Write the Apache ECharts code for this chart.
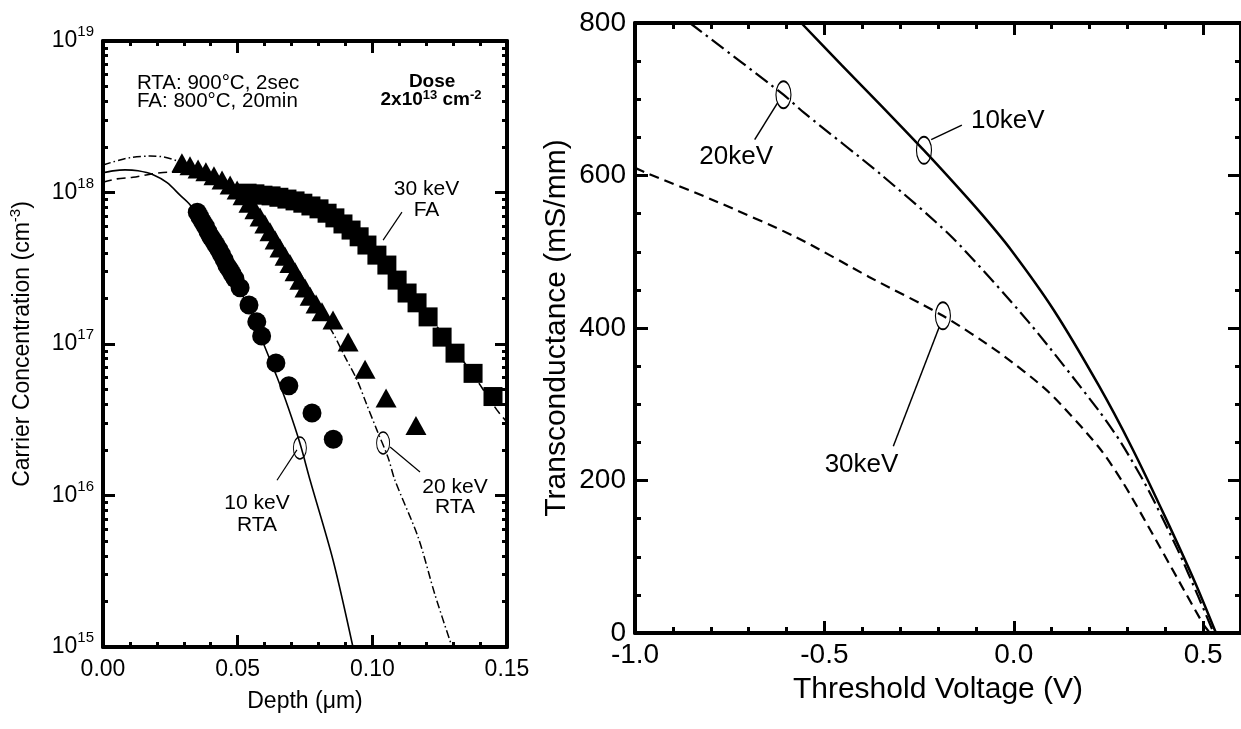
<!DOCTYPE html>
<html>
<head>
<meta charset="utf-8">
<script src="https://cdn.jsdelivr.net/npm/echarts@6/dist/echarts.min.js"></script>
<style>
  html, body { margin: 0; padding: 0; background: #fff; }
  #chart { width: 1241px; height: 729px; }
</style>
</head>
<body>
<div id="chart"></div>
<script>
// ---------- Carrier profiles: depth (µm) vs carrier concentration (cm^-3) ----------
// 10 keV, RTA (measured, circles)
const circDepth = [0.035, 0.036, 0.037, 0.038, 0.039, 0.040, 0.041, 0.042, 0.043, 0.044, 0.045, 0.046,
                   0.047, 0.048, 0.049, 0.0509, 0.0542, 0.0571, 0.0589, 0.0642, 0.0690, 0.0776, 0.0855];
const circConc  = [7.4e17, 6.9e17, 6.4e17, 6.0e17, 5.5e17, 5.1e17, 4.8e17, 4.5e17, 4.2e17, 3.9e17, 3.6e17, 3.3e17,
                   3.1e17, 2.9e17, 2.7e17, 2.35e17, 1.81e17, 1.40e17, 1.13e17, 7.5e16, 5.3e16, 3.5e16, 2.35e16];
// 20 keV, RTA (measured, triangles)
const triDepth = [0.0293, 0.0323, 0.0353, 0.0382, 0.0412, 0.0442, 0.0472, 0.0498, 0.0520, 0.0542, 0.0564, 0.0583,
                  0.0601, 0.0620, 0.0639, 0.0657, 0.0676, 0.0694, 0.0713, 0.0731, 0.0750, 0.0769, 0.0791, 0.0813,
                  0.0854, 0.0910, 0.0973, 0.1051, 0.1162];
const triConc  = [1.57e18, 1.50e18, 1.43e18, 1.37e18, 1.29e18, 1.21e18, 1.12e18, 1.04e18, 9.5e17, 8.5e17, 7.7e17, 6.9e17,
                  6.2e17, 5.5e17, 4.85e17, 4.3e17, 3.8e17, 3.4e17, 3.0e17, 2.64e17, 2.34e17, 2.07e17, 1.84e17, 1.63e17,
                  1.44e17, 1.03e17, 6.8e16, 4.4e16, 2.9e16];
// 30 keV, FA (measured, squares)
const sqDepth = [0.0535, 0.0564, 0.0594, 0.0624, 0.0653, 0.0683, 0.0713, 0.0742, 0.0772, 0.0802, 0.0832, 0.0861,
                 0.0891, 0.0921, 0.0951, 0.0980, 0.1017, 0.1054, 0.1092, 0.1129, 0.1166, 0.1207, 0.1259, 0.1307,
                 0.1374, 0.1448];
const sqConc  = [9.9e17, 9.8e17, 9.6e17, 9.5e17, 9.3e17, 9.05e17, 8.8e17, 8.5e17, 8.15e17, 7.8e17, 7.3e17, 6.8e17,
                 6.2e17, 5.65e17, 5.1e17, 4.5e17, 3.86e17, 3.32e17, 2.64e17, 2.17e17, 1.87e17, 1.51e17, 1.11e17, 8.7e16,
                 6.4e16, 4.5e16];
// Simulated profiles
const sim10Depth = [0, 0.0037, 0.0082, 0.0130, 0.0186, 0.0238, 0.0286, 0.0323, 0.0416, 0.0509, 0.0564, 0.0601,
                    0.0646, 0.0687, 0.0731, 0.0769, 0.0854, 0.0928];
const sim10Conc  = [1.35e18, 1.39e18, 1.41e18, 1.39e18, 1.31e18, 1.16e18, 9.6e17, 8.3e17, 4.85e17, 2.27e17, 1.40e17, 9.55e16,
                    6.05e16, 3.84e16, 2.22e16, 1.26e16, 3.75e15, 1.0e15];
const sim20Depth = [0, 0.0063, 0.0111, 0.0175, 0.0230, 0.0286, 0.0360, 0.0434, 0.0509, 0.0583, 0.0657, 0.0731,
                    0.0780, 0.0854, 0.0899, 0.0943, 0.0980, 0.1017, 0.1058, 0.1084, 0.1170, 0.1233, 0.1296];
const sim20Conc  = [1.52e18, 1.64e18, 1.71e18, 1.74e18, 1.71e18, 1.59e18, 1.41e18, 1.25e18, 1.04e18, 7.4e17, 4.5e17, 2.53e17,
                    1.95e17, 1.18e17, 8.2e16, 5.8e16, 3.95e16, 2.7e16, 1.79e16, 1.26e16, 5.3e15, 2.2e15, 1.0e15];
const sim30Depth = [0, 0.0052, 0.0111, 0.0175, 0.0238, 0.0297, 0.0360, 0.0440, 0.0535, 0.0731, 0.0917, 0.1054,
                    0.1214, 0.1363, 0.1463, 0.150];
const sim30Conc  = [1.17e18, 1.23e18, 1.26e18, 1.32e18, 1.36e18, 1.36e18, 1.35e18, 1.23e18, 9.9e17, 8.65e17, 5.83e17, 3.32e17,
                    1.49e17, 6.7e16, 3.66e16, 3.05e16];

// ---------- Transconductance (mS/mm) vs threshold voltage (V) ----------
const gm10Vth = [-0.561, -0.455, -0.347, -0.237, -0.161, -0.084, -0.008, 0.105, 0.224, 0.311, 0.400, 0.479, 0.534];
const gm10    = [800, 745, 690, 633, 592, 549, 503, 424, 325, 244, 152, 66, 0];
const gm20Vth = [-0.855, -0.608, -0.553, -0.350, -0.163, 0.039, 0.224, 0.284, 0.355, 0.434, 0.487, 0.528];
const gm20    = [800, 706, 682, 601, 519, 408, 292, 249, 188, 108, 48, 0];
const gm30Vth = [-1.0, -0.968, -0.795, -0.574, -0.382, -0.187, -0.039, 0.092, 0.224, 0.290, 0.355, 0.434, 0.500, 0.518];
const gm30    = [610, 603, 568, 519, 467, 416, 368, 316, 244, 196, 140, 70, 12, 0];

// ---------- Tick values ----------
const depthMajor = [0, 0.05, 0.10, 0.15];
const depthMinor = [0.01, 0.02, 0.03, 0.04, 0.06, 0.07, 0.08, 0.09, 0.11, 0.12, 0.13, 0.14];
const concDecades = [1e15, 1e16, 1e17, 1e18, 1e19];
const concMinor = [];
for (let e = 15; e < 19; e++) for (let m = 2; m <= 9; m++) concMinor.push(m * Math.pow(10, e));
const vthMajor = [-1.0, -0.5, 0.0, 0.5];
const vthMinor = [-0.9, -0.8, -0.7, -0.6, -0.4, -0.3, -0.2, -0.1, 0.1, 0.2, 0.3, 0.4];
const gmMajor = [0, 200, 400, 600, 800];
const gmMinor = [50, 100, 150, 250, 300, 350, 450, 500, 550, 650, 700, 750];

const FONT = '"Liberation Sans", Arial, Helvetica, sans-serif';
const pairs = (xs, ys) => xs.map((x, i) => [x, ys[i]]);

// Axis helper: every side of a frame is drawn by a "major" axis (line, long ticks,
// optional labels) and a "minor" axis (short ticks only) that overlap each other.
function frameAxis(gridIndex, position, type, min, max, ticks, len, withLine) {
  const a = {
    gridIndex, position, type, min, max,
    axisLine: { show: !!withLine, onZero: false, lineStyle: { color: '#000', width: 4 } },
    axisTick: { show: true, inside: true, length: len, customValues: ticks,
                lineStyle: { color: '#000', width: 3 } },
    minorTick: { show: false },
    splitLine: { show: false },
    minorSplitLine: { show: false },
    axisLabel: { show: false },
    axisPointer: { show: false },
    silent: true
  };
  if (type === 'log') a.logBase = 10;
  return a;
}

// Left frame (grid 0): xAxis 0..3, yAxis 0..3
const xL = frameAxis(0, 'bottom', 'value', 0, 0.15, depthMajor, 12, true);
xL.axisLabel = { show: true, customValues: depthMajor, formatter: v => v.toFixed(2),
                 fontSize: 23, fontFamily: FONT, color: '#000', margin: 11 };
xL.name = 'Depth (\u03bcm)';
xL.nameLocation = 'middle';
xL.nameGap = 43;
xL.nameTextStyle = { fontSize: 23, fontFamily: FONT, color: '#000' };

const yL = frameAxis(0, 'left', 'log', 1e15, 1e19, concDecades, 12, true);
yL.axisLabel = {
  show: true, customValues: concDecades, margin: 9,
  formatter: v => '{b|10}{s|' + Math.round(Math.log10(v)) + '}',
  rich: {
    b: { fontSize: 23, fontFamily: FONT, color: '#000' },
    s: { fontSize: 15, fontFamily: FONT, color: '#000', padding: [0, 0, 18, 0] }
  }
};
yL.name = '{n|Carrier Concentration (cm}{s|-3}{n|)}';
yL.nameLocation = 'middle';
yL.nameRotate = 90;
yL.nameGap = 66;
yL.nameTextStyle = {
  rich: {
    n: { fontSize: 23, fontFamily: FONT, color: '#000' },
    s: { fontSize: 15, fontFamily: FONT, color: '#000', padding: [0, 0, 14, 0] }
  }
};

// Right frame (grid 1): xAxis 4..7, yAxis 4..7
const xR = frameAxis(1, 'bottom', 'value', -1.0, 0.6, vthMajor, 12, true);
xR.axisLabel = { show: true, customValues: vthMajor, formatter: v => v.toFixed(1),
                 fontSize: 28, fontFamily: FONT, color: '#000', margin: 8 };
xR.name = 'Threshold Voltage (V)';
xR.nameLocation = 'middle';
xR.nameGap = 42;
xR.nameTextStyle = { fontSize: 30, fontFamily: FONT, color: '#000' };

const yR = frameAxis(1, 'left', 'value', 0, 800, gmMajor, 13, true);
yR.axisLabel = { show: true, customValues: gmMajor, fontSize: 28, fontFamily: FONT, color: '#000', margin: 9 };
yR.name = 'Transconductance (mS/mm)';
yR.nameLocation = 'middle';
yR.nameRotate = 90;
yR.nameGap = 63;
yR.nameTextStyle = { fontSize: 30, fontFamily: FONT, color: '#000' };

const xAxes = [
  xL,
  frameAxis(0, 'bottom', 'value', 0, 0.15, depthMinor, 5, false),
  frameAxis(0, 'top', 'value', 0, 0.15, depthMajor, 12, true),
  frameAxis(0, 'top', 'value', 0, 0.15, depthMinor, 5, false),
  xR,
  frameAxis(1, 'bottom', 'value', -1.0, 0.6, vthMinor, 6, false),
  frameAxis(1, 'top', 'value', -1.0, 0.6, vthMajor, 12, true),
  frameAxis(1, 'top', 'value', -1.0, 0.6, vthMinor, 6, false)
];
const yAxes = [
  yL,
  frameAxis(0, 'left', 'log', 1e15, 1e19, concMinor, 5, false),
  frameAxis(0, 'right', 'log', 1e15, 1e19, concDecades, 12, true),
  frameAxis(0, 'right', 'log', 1e15, 1e19, concMinor, 5, false),
  yR,
  frameAxis(1, 'left', 'value', 0, 800, gmMinor, 6, false),
  frameAxis(1, 'right', 'value', 0, 800, gmMajor, 13, true),
  frameAxis(1, 'right', 'value', 0, 800, gmMinor, 6, false)
];

// Text label anchored at a data point
function note(x, y, text, opt) {
  return {
    value: [x, y],
    label: Object.assign({ show: true, position: 'inside', formatter: text, color: '#000',
                           fontFamily: FONT, fontSize: 20, align: 'center', verticalAlign: 'middle' }, opt || {})
  };
}
function textSeries(xi, yi, data) {
  return { type: 'scatter', xAxisIndex: xi, yAxisIndex: yi, symbolSize: 1, silent: true, z: 10,
           itemStyle: { color: 'rgba(0,0,0,0)', opacity: 1 }, data };
}
function leader(xi, yi, pts, w) {
  return { type: 'line', xAxisIndex: xi, yAxisIndex: yi, data: pts, symbol: 'none', silent: true, z: 6,
           lineStyle: { color: '#000', width: w } };
}
function ring(xi, yi, pts, size, w) {
  return { type: 'scatter', xAxisIndex: xi, yAxisIndex: yi, data: pts, symbol: 'circle', symbolSize: size,
           silent: true, z: 6,
           itemStyle: { color: 'rgba(0,0,0,0)', borderColor: '#000', borderWidth: w, opacity: 1 } };
}
function markers(data, symbol, size) {
  return { type: 'scatter', xAxisIndex: 0, yAxisIndex: 0, data, symbol, symbolSize: size, z: 4,
           silent: true, itemStyle: { color: '#000', opacity: 1 } };
}
function curve(xi, yi, data, width, dash, smooth) {
  return { type: 'line', xAxisIndex: xi, yAxisIndex: yi, data, symbol: 'none', smooth, z: 2, silent: true,
           lineStyle: { color: '#000', width, type: dash } };
}

const boldRich = {
  bb: { fontSize: 19, fontWeight: 'bold', fontFamily: FONT, color: '#000' },
  bs: { fontSize: 13, fontWeight: 'bold', fontFamily: FONT, color: '#000', padding: [0, 0, 10, 0] }
};

const option = {
  animation: false,
  backgroundColor: '#fff',
  grid: [
    { left: 103, top: 41, width: 404, height: 606, containLabel: false },
    { left: 635, top: 23, width: 610, height: 610, containLabel: false }
  ],
  xAxis: xAxes,
  yAxis: yAxes,
  series: [
    // ---- left: simulated profiles ----
    curve(0, 0, pairs(sim10Depth, sim10Conc), 1.6, 'solid', 0.3),
    curve(0, 0, pairs(sim20Depth, sim20Conc), 1.5, [8, 3, 1.5, 3], 0.3),
    curve(0, 0, pairs(sim30Depth, sim30Conc), 1.6, [9, 5], 0.3),
    // ---- left: measured profiles ----
    markers(pairs(circDepth, circConc), 'circle', 19),
    markers(pairs(triDepth, triConc), 'triangle', [21, 19]),
    markers(pairs(sqDepth, sqConc), 'rect', 19),
    // ---- left: annotations ----
    leader(0, 0, [[0.1110, 7.43e17], [0.1040, 4.85e17]], 1.2),
    leader(0, 0, [[0.0646, 1.26e16], [0.0720, 2.0e16]], 1.2),
    leader(0, 0, [[0.1066, 2.09e16], [0.1177, 1.43e16]], 1.2),
    ring(0, 0, [[0.0731, 2.06e16], [0.1040, 2.22e16]], [13, 22], 1.2),
    textSeries(0, 0, [
      note(0.0126, 4.6e18, 'RTA: 900\u00b0C, 2sec\nFA: 800\u00b0C, 20min', { align: 'left', lineHeight: 18, fontSize: 20.5 }),
      note(0.1222, 5.36e18, '{bb|Dose}', { rich: boldRich }),
      note(0.1218, 4.08e18, '{bb|2x10}{bs|13}{bb| cm}{bs|-2}', { rich: boldRich }),
      note(0.1201, 8.9e17, '30 keV\nFA', { fontSize: 21, lineHeight: 21 }),
      note(0.0572, 7.55e15, '10 keV\nRTA', { fontSize: 21, lineHeight: 22 }),
      note(0.1307, 9.7e15, '20 keV\nRTA', { fontSize: 21, lineHeight: 20 })
    ]),
    // ---- right: transconductance curves ----
    curve(4, 4, pairs(gm10Vth, gm10), 2.5, 'solid', 0.25),
    curve(4, 4, pairs(gm20Vth, gm20), 2.2, [15, 5, 2.5, 5], 0.25),
    curve(4, 4, pairs(gm30Vth, gm30), 2.2, [10, 6], 0.25),
    // ---- right: annotations ----
    leader(4, 4, [[-0.218, 647], [-0.137, 666]], 1.5),
    leader(4, 4, [[-0.624, 695], [-0.684, 647]], 1.5),
    leader(4, 4, [[-0.197, 401], [-0.318, 245]], 1.5),
    ring(4, 4, [[-0.237, 633], [-0.608, 706], [-0.187, 416]], [15, 27], 1.5),
    textSeries(4, 4, [
      note(-0.113, 672, '10keV', { align: 'left', fontSize: 26 }),
      note(-0.733, 624, '20keV', { fontSize: 26 }),
      note(-0.402, 221, '30keV', { fontSize: 26 })
    ])
  ]
};

const chart = echarts.init(document.getElementById('chart'), null, { renderer: 'canvas' });
chart.setOption(option);
</script>
</body>
</html>
